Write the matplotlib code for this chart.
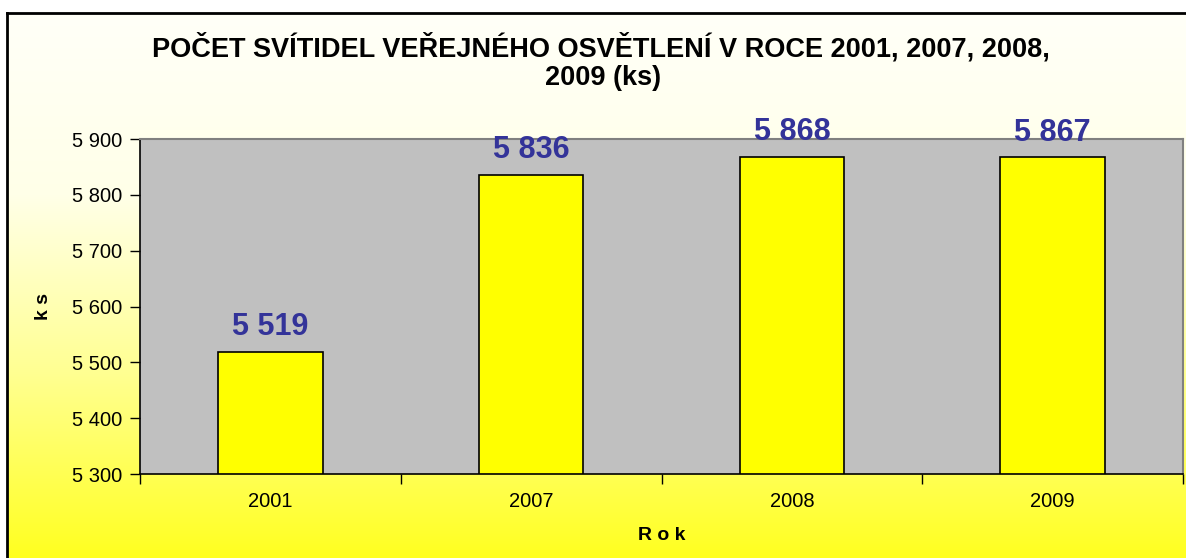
import numpy as np
import matplotlib
matplotlib.use("Agg")
import matplotlib.pyplot as plt
from matplotlib.colors import LinearSegmentedColormap
from matplotlib.ticker import FuncFormatter

# chart data
years = ["2001", "2007", "2008", "2009"]
counts = [5519, 5836, 5868, 5867]
y_ticks = [5300, 5400, 5500, 5600, 5700, 5800, 5900]

plt.rcParams['font.family'] = ['Liberation Sans', 'DejaVu Sans']

fig = plt.figure(figsize=(11.86, 5.58), dpi=100)

# gradient background (white -> yellow) inside the chart border
bg = fig.add_axes([0, 0, 1, 1], zorder=-10)
grad = np.linspace(0, 1, 256).reshape(-1, 1)
cmap = LinearSegmentedColormap.from_list("wy", ["#FFFFF8", "#FFFFE8", "#FFFF90", "#FFFF20"])
bg.imshow(grad, aspect='auto', cmap=cmap, extent=[7/1186, 1, 0, 1 - 13/558],
          transform=bg.transAxes)
bg.set_xlim(0, 1)
bg.set_ylim(0, 1)
bg.plot([7/1186, 7/1186], [0, 1 - 13/558], color='black', lw=2, transform=bg.transAxes)
bg.plot([7/1186, 1], [1 - 13/558, 1 - 13/558], color='black', lw=2, transform=bg.transAxes)
bg.axis('off')

ax = fig.add_axes([140/1186, 1 - 474/558, (1183 - 140)/1186, (474 - 139)/558])
ax.set_facecolor('#C0C0C0')

x = np.arange(len(years))
bars = ax.bar(x, counts, width=0.4, color='#FFFF00', edgecolor='black', linewidth=1.2)

for xi, v in zip(x, counts):
    ax.annotate(f"{v:,}".replace(",", " "), (xi, v), xytext=(0, 12),
                textcoords='offset points', ha='center', va='baseline',
                fontsize=22, fontweight='bold', color='#333399', clip_on=False)

ax.set_ylim(5300, 5900)
ax.set_xlim(-0.5, len(years) - 0.5)
ax.set_yticks(y_ticks)
ax.yaxis.set_major_formatter(FuncFormatter(lambda v, p: f"{int(v):,}".replace(",", " ")))

# ticks between categories, labels at category centres
ax.set_xticks(np.arange(-0.5, len(years), 1))
ax.set_xticklabels([])
ax.set_xticks(x, minor=True)
ax.set_xticklabels(years, minor=True)
ax.tick_params(axis='x', which='minor', length=0, pad=13, labelsize=14.5)
ax.tick_params(axis='x', which='major', length=7, direction='out', width=1)
ax.tick_params(axis='y', length=7, direction='out', width=1, labelsize=14.5, pad=6)

for side in ['top', 'right']:
    ax.spines[side].set_color('#808080')
    ax.spines[side].set_linewidth(1.5)
for side in ['left', 'bottom']:
    ax.spines[side].set_color('black')
    ax.spines[side].set_linewidth(1.2)

ax.set_ylabel("k s", fontsize=14, fontweight='bold', va='center')
ax.yaxis.set_label_coords((43 - 140) / 1043, 0.5)
ax.set_xlabel("R o k", fontsize=14, fontweight='bold', va='center')
ax.xaxis.set_label_coords((662 - 140) / 1043, -(535 - 474) / 335)

fig.text(601/1186, 1 - 48/558, "POČET SVÍTIDEL VEŘEJNÉHO OSVĚTLENÍ V ROCE 2001, 2007, 2008,",
         ha='center', va='center', fontsize=19.5, fontweight='bold')
fig.text(603/1186, 1 - 78/558, "2009 (ks)",
         ha='center', va='center', fontsize=19.5, fontweight='bold')

fig.savefig("out.png", dpi=100)
